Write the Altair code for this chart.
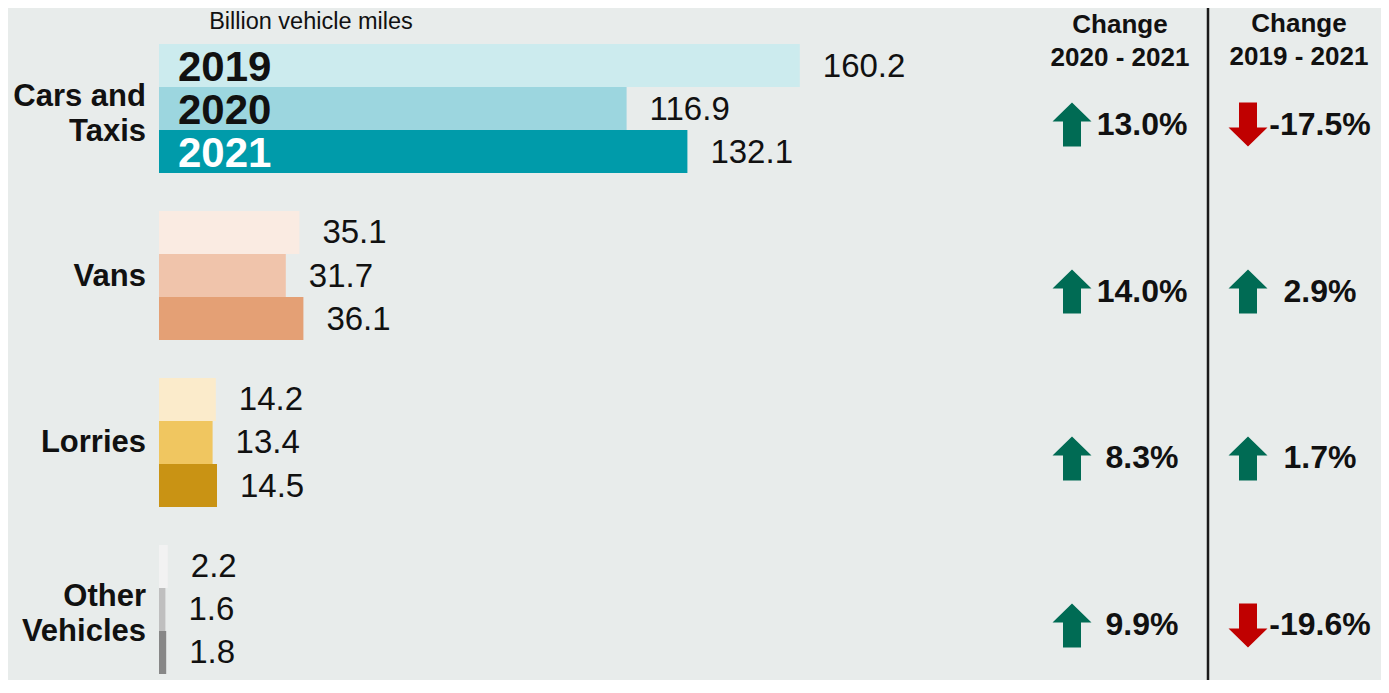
import altair as alt
import pandas as pd

# ---------------- data ----------------
categories = ["Cars and Taxis", "Vans", "Lorries", "Other Vehicles"]
category_labels = ["Cars and|Taxis", "Vans", "Lorries", "Other|Vehicles"]
years = ["2019", "2020", "2021"]
miles_2019 = [160.2, 35.1, 14.2, 2.2]
miles_2020 = [116.9, 31.7, 13.4, 1.6]
miles_2021 = [132.1, 36.1, 14.5, 1.8]
change_2020_2021 = [13.0, 14.0, 8.3, 9.9]
change_2019_2021 = [-17.5, 2.9, 1.7, -19.6]
unit_label = ["Billion vehicle miles"]
change_headers = ["Change|2020 - 2021", "Change|2019 - 2021"]

# ---------------- styles ----------------
FONT = "Liberation Sans"
BG = "#E8ECEB"
GREEN = "#006B54"
RED = "#C00000"
bar_palette = {
    "Cars and Taxis": ["#CCEBEE", "#9CD6DF", "#009BAA"],
    "Vans": ["#FAEBE2", "#F0C4AB", "#E4A075"],
    "Lorries": ["#FBEBCB", "#F0C660", "#C99314"],
    "Other Vehicles": ["#F2F2F2", "#BFBFBF", "#878787"],
}

rows = []
for i, c in enumerate(categories):
    for y, vals in zip(years, [miles_2019, miles_2020, miles_2021]):
        rows.append({"category": c, "year": y, "miles": vals[i], "key": f"{c} {y}"})
bars_df = pd.DataFrame(rows)
color_domain = [f"{c} {y}" for c in categories for y in years]
color_range = [col for c in categories for col in bar_palette[c]]

cat_df = pd.DataFrame({"category": categories, "label": category_labels})
chg1_df = pd.DataFrame({"category": categories, "value": change_2020_2021})
chg2_df = pd.DataFrame({"category": categories, "value": change_2019_2021})


def arrow_path(up, half_w=19.5, shaft=9.0, head=19.0, height=44.0, shift=16.0):
    s = height / 2.0
    hb = -s + head
    pts = [(0, -s), (half_w, hb), (shaft, hb), (shaft, s), (-shaft, s), (-shaft, hb), (-half_w, hb)]
    if not up:
        pts = [(x, -y) for x, y in pts]
    pts = [(x / s, (y + shift) / s) for x, y in pts]
    return "M" + "L".join(f"{x:.3f},{y:.3f}" for x, y in pts) + "Z"


UP = arrow_path(True)
DOWN = arrow_path(False)
ARROW_SIZE = 44.0 ** 2

y_enc = alt.Y("category:N", sort=categories,
              scale=alt.Scale(range=[36, 666], paddingInner=0.2275, paddingOuter=0),
              axis=None)
y_off = alt.YOffset("year:N", sort=years, scale=alt.Scale(paddingInner=0, paddingOuter=0))
x_scale = alt.Scale(domain=[0, 100], range=[151, 551])

bars = alt.Chart(bars_df).mark_bar().encode(
    x=alt.X("miles:Q", scale=x_scale, axis=None),
    y=y_enc,
    yOffset=y_off,
    color=alt.Color("key:N", scale=alt.Scale(domain=color_domain, range=color_range), legend=None),
)

values = alt.Chart(bars_df).mark_text(
    align="left", baseline="middle", dx=23, dy=1, fontSize=33, font=FONT, color="#111111"
).encode(
    x=alt.X("miles:Q", scale=x_scale, axis=None),
    y=y_enc,
    yOffset=y_off,
    text=alt.Text("miles:Q", format=".1f"),
)

year_labels = alt.Chart(bars_df).transform_filter(
    alt.datum.category == categories[0]
).transform_calculate(zero="0").mark_text(
    align="left", baseline="middle", dx=19, dy=2, fontSize=42, fontWeight="bold", font=FONT
).encode(
    x=alt.X("zero:Q", scale=x_scale, axis=None),
    y=y_enc,
    yOffset=y_off,
    text="year:N",
    color=alt.condition("datum.year == '2021'", alt.value("white"), alt.value("#111111")),
)

cat_base = alt.Chart(cat_df).transform_calculate(
    lines="split(datum.label, '|')", n="length(split(datum.label, '|'))"
)
cat_text_1 = cat_base.transform_filter("datum.n == 1").mark_text(
    align="right", baseline="middle", fontSize=31, fontWeight="bold", font=FONT,
    lineHeight=35, color="#111111", dy=1
).encode(x=alt.value(138), y=y_enc, text="lines:N")
cat_text_2 = cat_base.transform_filter("datum.n > 1").mark_text(
    align="right", baseline="middle", fontSize=31, fontWeight="bold", font=FONT,
    lineHeight=35, color="#111111", dy=-12
).encode(x=alt.value(138), y=y_enc, text="lines:N")

header = alt.Chart(pd.DataFrame({"t": unit_label})).mark_text(
    align="center", baseline="middle", fontSize=23.5, font=FONT, color="#111111"
).encode(x=alt.value(303), y=alt.value(14), text="t:N")

hdr1 = alt.Chart(pd.DataFrame({"t": [change_headers[0]]})).transform_calculate(
    lines="split(datum.t, '|')"
).mark_text(
    align="center", baseline="middle", fontSize=26, fontWeight="bold", font=FONT,
    lineHeight=33, color="#111111"
).encode(x=alt.value(1112), y=alt.value(17), text="lines:N")

hdr2 = alt.Chart(pd.DataFrame({"t": [change_headers[1]]})).transform_calculate(
    lines="split(datum.t, '|')"
).mark_text(
    align="center", baseline="middle", fontSize=26, fontWeight="bold", font=FONT,
    lineHeight=33, color="#111111"
).encode(x=alt.value(1291), y=alt.value(16), text="lines:N")


def change_layers(df, arrow_x, text_x):
    base = alt.Chart(df).transform_calculate(
        label="(datum.value < 0 ? '-' : '') + format(abs(datum.value), '.1f') + '%'"
    )
    arrows = base.mark_point(filled=True, opacity=1, strokeWidth=0, size=ARROW_SIZE).encode(
        x=alt.value(arrow_x),
        y=y_enc,
        shape=alt.condition("datum.value >= 0", alt.value(UP), alt.value(DOWN)),
        color=alt.condition("datum.value >= 0", alt.value(GREEN), alt.value(RED)),
    )
    texts = base.mark_text(
        align="center", baseline="middle", dy=16, fontSize=32, fontWeight="bold",
        font=FONT, color="#111111"
    ).encode(x=alt.value(text_x), y=y_enc, text="label:N")
    return [arrows, texts]


divider = alt.Chart(pd.DataFrame({"a": [0]})).mark_rule(color="#1a1a1a", strokeWidth=2.5).encode(
    x=alt.value(1200), y=alt.value(0), y2=alt.value(672)
)

chart = alt.layer(
    bars, values, year_labels, cat_text_1, cat_text_2, header, hdr1, hdr2,
    *change_layers(chg1_df, 1064, 1134),
    *change_layers(chg2_df, 1240, 1312),
    divider,
).properties(
    width=1373, height=672, padding=0,
    autosize=alt.AutoSizeParams(type="none"),
    background=BG,
).configure_view(stroke=None)

chart.save("out.html", embed_options={"renderer": "svg", "actions": False})
